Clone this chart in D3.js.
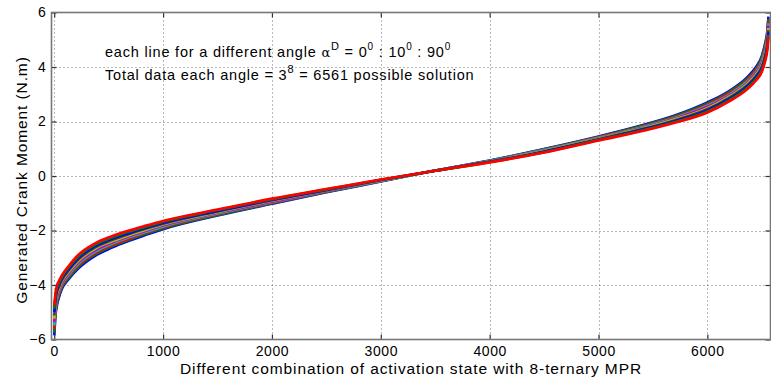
<!DOCTYPE html>
<html>
<head>
<meta charset="utf-8">
<script src="https://cdn.jsdelivr.net/npm/d3@7"></script>
<style>
  html, body { margin: 0; padding: 0; background: #fff; }
  svg { display: block; font-family: "Liberation Sans", Arial, Helvetica, sans-serif; }
</style>
</head>
<body>
<svg id="chart" width="771" height="383"></svg>
<script>
// Sorted crank moment for every activation combination, one series per angle αD.
const angles = [0, 10, 20, 30, 40, 50, 60, 70, 80, 90];

// Combination index (after sorting) at which each series is sampled.
const sampleIndex = [1, 10, 25, 40, 70, 130, 220, 375, 530, 680, 835, 1000, 1500, 2000, 2500,
  3000, 3500, 4000, 4500, 5000, 5400, 5700, 6000, 6200, 6360, 6450, 6500, 6530, 6550, 6561];

const moment0  = [-5.85, -5.2, -4.75, -4.5, -4.15, -3.8, -3.4, -2.93, -2.63, -2.39, -2.17, -1.95, -1.45, -1.02, -0.6,
  -0.2, 0.2, 0.57, 0.99, 1.45, 1.86, 2.22, 2.7, 3.12, 3.6, 4.02, 4.4, 4.85, 5.3, 5.85];
const moment10 = [-5.73, -5.11, -4.67, -4.43, -4.09, -3.75, -3.34, -2.88, -2.58, -2.35, -2.13, -1.92, -1.43, -1.0, -0.59,
  -0.19, 0.2, 0.56, 0.98, 1.43, 1.84, 2.19, 2.66, 3.08, 3.55, 3.96, 4.34, 4.78, 5.22, 5.77];
const moment20 = [-5.61, -5.01, -4.59, -4.36, -4.04, -3.69, -3.29, -2.83, -2.54, -2.31, -2.09, -1.88, -1.4, -0.98, -0.57,
  -0.18, 0.2, 0.55, 0.96, 1.42, 1.81, 2.16, 2.62, 3.04, 3.5, 3.91, 4.27, 4.71, 5.14, 5.68];
const moment30 = [-5.48, -4.92, -4.51, -4.29, -3.98, -3.64, -3.23, -2.78, -2.49, -2.26, -2.06, -1.85, -1.38, -0.96, -0.56,
  -0.18, 0.2, 0.55, 0.95, 1.4, 1.79, 2.13, 2.58, 2.99, 3.45, 3.85, 4.21, 4.63, 5.07, 5.6];
const moment40 = [-5.36, -4.82, -4.43, -4.22, -3.93, -3.59, -3.18, -2.73, -2.44, -2.22, -2.02, -1.82, -1.35, -0.94, -0.55,
  -0.17, 0.2, 0.54, 0.93, 1.38, 1.76, 2.1, 2.54, 2.95, 3.4, 3.8, 4.14, 4.56, 4.99, 5.52];
const moment50 = [-5.24, -4.73, -4.34, -4.16, -3.87, -3.53, -3.12, -2.67, -2.4, -2.18, -1.98, -1.78, -1.33, -0.91, -0.53,
  -0.16, 0.19, 0.53, 0.92, 1.37, 1.74, 2.07, 2.49, 2.91, 3.36, 3.74, 4.08, 4.49, 4.91, 5.43];
const moment60 = [-5.12, -4.63, -4.26, -4.09, -3.82, -3.48, -3.07, -2.62, -2.35, -2.14, -1.94, -1.75, -1.3, -0.89, -0.52,
  -0.15, 0.19, 0.52, 0.9, 1.35, 1.72, 2.04, 2.45, 2.87, 3.31, 3.69, 4.01, 4.42, 4.83, 5.35];
const moment70 = [-4.99, -4.54, -4.18, -4.02, -3.76, -3.43, -3.01, -2.57, -2.3, -2.1, -1.91, -1.72, -1.28, -0.87, -0.51,
  -0.15, 0.19, 0.52, 0.89, 1.33, 1.7, 2.01, 2.41, 2.82, 3.26, 3.63, 3.95, 4.34, 4.76, 5.27];
const moment80 = [-4.87, -4.44, -4.1, -3.95, -3.71, -3.37, -2.96, -2.52, -2.26, -2.05, -1.87, -1.68, -1.25, -0.85, -0.49,
  -0.14, 0.19, 0.51, 0.87, 1.32, 1.67, 1.98, 2.37, 2.78, 3.21, 3.58, 3.88, 4.27, 4.68, 5.18];
const moment90 = [-4.75, -4.35, -4.02, -3.88, -3.65, -3.32, -2.9, -2.47, -2.21, -2.01, -1.83, -1.65, -1.23, -0.83, -0.48,
  -0.13, 0.19, 0.5, 0.86, 1.3, 1.65, 1.95, 2.33, 2.74, 3.16, 3.52, 3.82, 4.2, 4.6, 5.1];

const xTicks = [0, 1000, 2000, 3000, 4000, 5000, 6000];
const yTicks = [-6, -4, -2, 0, 2, 4, 6];

// MATLAB-style line colour order, cycled over the series.
const colorOrder = ["#0000ff", "#008000", "#ff0000", "#00bfbf", "#bf00bf", "#bfbf00", "#404040"];

const seriesValues = [moment0, moment10, moment20, moment30, moment40,
  moment50, moment60, moment70, moment80, moment90];
const series = angles.map((a, i) => ({
  angle: a,
  color: colorOrder[i % colorOrder.length],
  points: sampleIndex.map((n, j) => ({ n, v: seriesValues[i][j] }))
}));

const box = { left: 51.5, right: 770.5, top: 12.5, bottom: 339.5 };

const x = d3.scaleLinear().domain([-25, 6580]).range([box.left, box.right]);
const y = d3.scaleLinear().domain([-6, 6]).range([box.bottom, box.top]);

const svg = d3.select("#chart");

// Dotted grid
const grid = svg.append("g").attr("class", "grid")
  .attr("stroke", "#707070").attr("stroke-width", 1).attr("stroke-dasharray", "1,3");
grid.selectAll("line.gx").data(xTicks).join("line").attr("class", "gx")
  .attr("x1", d => Math.round(x(d)) + 0.5).attr("x2", d => Math.round(x(d)) + 0.5)
  .attr("y1", box.top).attr("y2", box.bottom);
grid.selectAll("line.gy").data(yTicks.slice(1, -1)).join("line").attr("class", "gy")
  .attr("y1", d => Math.round(y(d)) + 0.5).attr("y2", d => Math.round(y(d)) + 0.5)
  .attr("x1", box.left).attr("x2", box.right);

// Data lines
const line = d3.line().x(d => x(d.n)).y(d => y(d.v)).curve(d3.curveMonotoneX);
svg.append("g").attr("class", "series")
  .selectAll("path").data(series).join("path")
  .attr("d", d => line(d.points))
  .attr("fill", "none")
  .attr("stroke", d => d.color)
  .attr("stroke-width", 2.6)
  .attr("stroke-linejoin", "round");

// Axes with inward ticks on all four sides
const tickLen = 5;
const xAxisB = d3.axisBottom(x).tickValues(xTicks).tickSize(-tickLen).tickPadding(7).tickFormat(d3.format("d"));
const xAxisT = d3.axisTop(x).tickValues(xTicks).tickSize(-tickLen).tickFormat("");
const yAxisL = d3.axisLeft(y).tickValues(yTicks).tickSize(-tickLen).tickPadding(5).tickFormat(d3.format("d"));
const yAxisR = d3.axisRight(y).tickValues(yTicks).tickSize(-tickLen).tickFormat("");

function styleAxis(g) {
  g.select(".domain").remove();
  g.selectAll(".tick line").attr("stroke", "#333").attr("stroke-width", 1.2);
  g.selectAll(".tick text").attr("fill", "#000").attr("font-size", 14)
    .attr("letter-spacing", 0.6)
    .attr("font-family", "Liberation Sans, Arial, sans-serif");
}

svg.append("g").attr("transform", `translate(0,${box.bottom})`).call(xAxisB).call(styleAxis);
svg.append("g").attr("transform", `translate(0,${box.top})`).call(xAxisT).call(styleAxis);
svg.append("g").attr("transform", `translate(${box.left},0)`).call(yAxisL).call(styleAxis);
svg.append("g").attr("transform", `translate(${box.right},0)`).call(yAxisR).call(styleAxis);

// Axes frame
svg.append("rect")
  .attr("x", box.left).attr("y", box.top)
  .attr("width", box.right - box.left).attr("height", box.bottom - box.top)
  .attr("fill", "none").attr("stroke", "#777").attr("stroke-width", 1.6);

// Axis labels
svg.append("text")
  .attr("x", (box.left + box.right) / 2).attr("y", 374)
  .attr("text-anchor", "middle").attr("font-size", 15.5).attr("letter-spacing", 0.9).attr("fill", "#000")
  .text("Different combination of activation state with 8-ternary MPR");

svg.append("text")
  .attr("transform", `translate(26.5,180) rotate(-90)`)
  .attr("text-anchor", "middle").attr("font-size", 15.5).attr("letter-spacing", 0.9).attr("fill", "#000")
  .text("Generated Crank Moment (N.m)");

// Annotation
const note = svg.append("g").attr("font-size", 14.5).attr("letter-spacing", 0.8).attr("fill", "#000");
const t1 = note.append("text").attr("x", 105).attr("y", 57);
t1.append("tspan").text("each line for a different angle ");
t1.append("tspan").attr("font-family", "DejaVu Serif, serif").attr("font-size", 13).text("α");
t1.append("tspan").attr("font-size", 11).attr("dy", -7).text("D");
t1.append("tspan").attr("dy", 7).text(" = 0");
t1.append("tspan").attr("font-size", 10).attr("dy", -7).text("0");
t1.append("tspan").attr("dy", 7).text(" : 10");
t1.append("tspan").attr("font-size", 10).attr("dy", -7).text("0");
t1.append("tspan").attr("dy", 7).text(" : 90");
t1.append("tspan").attr("font-size", 10).attr("dy", -7).text("0");

const t2 = note.append("text").attr("x", 105).attr("y", 80);
t2.append("tspan").text("Total data each angle = 3");
t2.append("tspan").attr("font-size", 11).attr("dy", -7).text("8");
t2.append("tspan").attr("dy", 7).text(" = 6561 possible solution");
</script>
</body>
</html>
